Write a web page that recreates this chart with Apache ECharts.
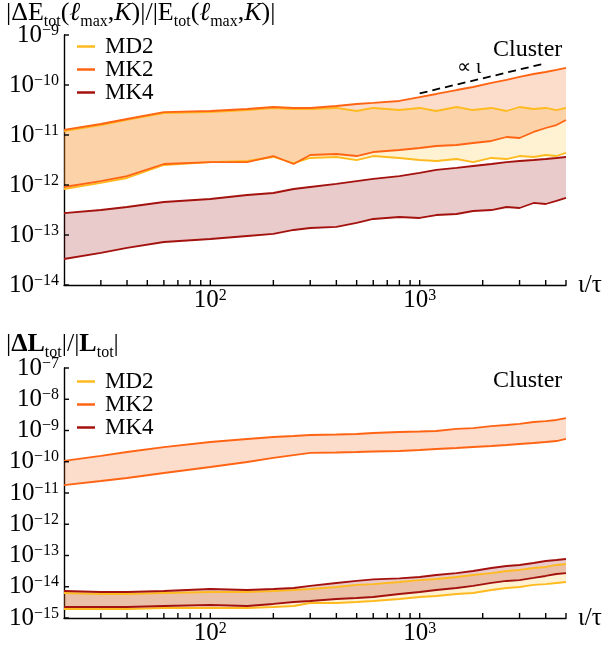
<!DOCTYPE html>
<html><head><meta charset="utf-8">
<script src="https://cdn.jsdelivr.net/npm/echarts@6/dist/echarts.min.js"></script>
<style>html,body{margin:0;padding:0;background:#fff}#c{width:607px;height:654px}</style>
</head><body><div id="c"></div><script>
// time grid (t/tau)
const tVals = [20,30,40,60,100,150,200,250,300,400,500,600,800,1000,1200,1500,1800,2200,2600,3000,3500,4000,4500,5000];

// Top panel: |dE|/|E|
const eMD2hi = [1.20e-11,1.58e-11,2.0e-11,2.75e-11,2.88e-11,3.16e-11,3.47e-11,3.31e-11,3.31e-11,3.47e-11,3.02e-11,3.47e-11,3.16e-11,3.47e-11,3.02e-11,3.63e-11,3.16e-11,3.47e-11,3.02e-11,3.63e-11,3.31e-11,3.47e-11,3.16e-11,3.47e-11];
const eMD2lo = [8.32e-13,1.10e-12,1.38e-12,2.51e-12,2.88e-12,3.02e-12,3.63e-12,2.75e-12,3.47e-12,3.63e-12,3.16e-12,3.80e-12,3.47e-12,3.16e-12,3.02e-12,3.31e-12,2.88e-12,3.47e-12,3.31e-12,3.80e-12,3.63e-12,3.98e-12,3.80e-12,4.37e-12];
const eMK2hi = [1.26e-11,1.66e-11,2.09e-11,2.88e-11,3.02e-11,3.31e-11,3.63e-11,3.47e-11,3.47e-11,3.80e-11,4.17e-11,4.37e-11,4.79e-11,5.75e-11,6.61e-11,7.94e-11,9.12e-11,1.10e-10,1.26e-10,1.45e-10,1.66e-10,1.82e-10,2.0e-10,2.19e-10];
const eMK2lo = [9.12e-13,1.20e-12,1.51e-12,2.63e-12,2.88e-12,2.88e-12,3.80e-12,2.63e-12,3.98e-12,4.17e-12,3.80e-12,4.57e-12,5.01e-12,5.50e-12,6.03e-12,6.31e-12,6.92e-12,7.59e-12,9.12e-12,8.71e-12,1.15e-11,1.38e-11,1.58e-11,2.0e-11];
const eMK4hi = [2.75e-13,3.16e-13,3.63e-13,4.57e-13,5.25e-13,6.31e-13,6.92e-13,8.32e-13,9.12e-13,1.05e-12,1.20e-12,1.32e-12,1.51e-12,1.74e-12,2.0e-12,2.19e-12,2.40e-12,2.63e-12,2.88e-12,3.02e-12,3.16e-12,3.31e-12,3.47e-12,3.63e-12];
const eMK4lo = [3.31e-14,4.37e-14,5.50e-14,7.24e-14,8.32e-14,9.55e-14,1.05e-13,1.26e-13,1.38e-13,1.45e-13,1.74e-13,2.09e-13,2.29e-13,2.19e-13,2.51e-13,2.63e-13,3.02e-13,3.16e-13,3.63e-13,3.47e-13,4.37e-13,4.17e-13,4.79e-13,5.50e-13];

// Bottom panel: |dL|/|L|
const lMD2hi = [6.31e-15,5.86e-15,5.86e-15,6.31e-15,6.79e-15,6.79e-15,7.31e-15,7.87e-15,8.47e-15,9.82e-15,1.14e-14,1.22e-14,1.42e-14,1.64e-14,1.77e-14,2.05e-14,2.38e-14,2.75e-14,3.19e-14,3.44e-14,3.98e-14,4.29e-14,4.97e-14,5.35e-14];
const lMD2lo = [1.94e-15,1.94e-15,1.94e-15,2.09e-15,2.09e-15,2.09e-15,2.25e-15,2.42e-15,3.02e-15,3.02e-15,3.25e-15,3.50e-15,4.06e-15,4.70e-15,5.06e-15,5.86e-15,6.31e-15,7.87e-15,9.12e-15,9.82e-15,1.14e-14,1.22e-14,1.32e-14,1.42e-14];
const lMK2hi = [1.06e-10,1.53e-10,2.05e-10,2.96e-10,4.29e-10,5.35e-10,6.19e-10,6.67e-10,7.18e-10,7.45e-10,7.72e-10,8.32e-10,8.95e-10,9.29e-10,9.64e-10,1.12e-9,1.20e-9,1.39e-9,1.50e-9,1.62e-9,1.87e-9,2.01e-9,2.17e-9,2.51e-9];
const lMK2lo = [1.80e-11,2.42e-11,3.02e-11,4.37e-11,6.79e-11,9.82e-11,1.32e-10,1.64e-10,1.91e-10,1.98e-10,2.05e-10,2.13e-10,2.21e-10,2.38e-10,2.56e-10,2.75e-10,2.96e-10,3.19e-10,3.44e-10,3.70e-10,3.98e-10,4.29e-10,4.61e-10,5.35e-10];
const lMK4hi = [7.31e-15,6.79e-15,6.79e-15,7.31e-15,8.47e-15,7.87e-15,8.47e-15,9.12e-15,1.06e-14,1.32e-14,1.53e-14,1.71e-14,1.84e-14,2.05e-14,2.38e-14,2.75e-14,3.19e-14,3.98e-14,4.61e-14,4.97e-14,5.75e-14,6.67e-14,7.18e-14,7.73e-14];
const lMK4lo = [2.25e-15,2.25e-15,2.25e-15,2.42e-15,2.61e-15,2.42e-15,2.81e-15,3.25e-15,3.50e-15,4.06e-15,4.37e-15,4.70e-15,5.86e-15,6.79e-15,7.87e-15,9.12e-15,1.06e-14,1.32e-14,1.53e-14,1.64e-14,1.91e-14,2.21e-14,2.56e-14,2.75e-14];

// reference slope line (proportional to t)
const dashT = [1000, 4000];
const dashV = [6.8e-11, 2.72e-10];

// axis ticks / labels
const xMin = 20, xMax = 5000;
const xLabelVals = [100, 1000];
const xTickVals = [30,40,50,60,70,80,90,100,200,300,400,500,600,700,800,900,1000,2000,3000,4000,5000];
const yTopTicks = [1e-14,1e-13,1e-12,1e-11,1e-10,1e-9];
const yBotTicks = [1e-15,1e-14,1e-13,1e-12,1e-11,1e-10,1e-9,1e-8,1e-7];
const models = ['MD2','MK2','MK4'];

const FONT = 'Liberation Serif';
const lineColors = {MD2:'#FFBA1F', MK2:'#FF6414', MK4:'#A3120E'};
const fillColors = {MD2:'rgba(255,190,30,0.20)', MK2:'rgba(242,100,25,0.22)', MK4:'rgba(160,16,16,0.22)'};

const chart = echarts.init(document.getElementById('c'), null, {renderer:'canvas'});

const supRich = {
  b:{fontFamily:FONT,fontSize:25,lineHeight:25,verticalAlign:'bottom',color:'#000'},
  sup:{fontFamily:FONT,fontSize:16,lineHeight:16,padding:[0,0,12,0],verticalAlign:'top',color:'#000'}
};
function pow10Label(v){
  const e = Math.round(Math.log10(v));
  return '{b|10}{sup|' + (e < 0 ? '\u2212' + (-e) : e) + '}';
}
const axisLineStyle = {color:'#000', width:1.4};

function xAxis(gi){
  return {
    type:'log', logBase:10, gridIndex:gi, min:xMin, max:xMax,
    axisLine:{show:true, lineStyle:axisLineStyle},
    axisTick:{show:false},
    axisLabel:{show:true, margin:3, customValues:xLabelVals, formatter:pow10Label, rich:supRich},
    splitLine:{show:false}, minorTick:{show:false},
    name:'\u03b9/\u03c4', nameLocation:'end', nameGap:12,
    nameTextStyle:{fontFamily:FONT, fontSize:25, color:'#000', verticalAlign:'middle'}
  };
}
function yAxis(gi, mn, mx, ticks){
  return {
    type:'log', logBase:10, gridIndex:gi, min:mn, max:mx,
    axisLine:{show:true, lineStyle:axisLineStyle},
    axisTick:{show:false},
    axisLabel:{show:true, margin:5, customValues:ticks, formatter:pow10Label, rich:supRich},
    splitLine:{show:false}
  };
}

function lineSeries(name, gi, arr){
  return {
    type:'line', name, xAxisIndex:gi, yAxisIndex:gi, z:3,
    data: tVals.map((t,i)=>[t, arr[i]]),
    symbol:'none', showSymbol:false, silent:true,
    lineStyle:{color:lineColors[name], width:1.8},
    itemStyle:{color:lineColors[name]}
  };
}
function bandSeries(name, gi, lo, hi){
  return {
    type:'custom', name, xAxisIndex:gi, yAxisIndex:gi, z:1, silent:true, clip:true,
    data:[[tVals[0], lo[0]]],
    renderItem(params, api){
      const pts = [];
      for (let i=0;i<tVals.length;i++) pts.push(api.coord([tVals[i], hi[i]]));
      for (let i=tVals.length-1;i>=0;i--) pts.push(api.coord([tVals[i], lo[i]]));
      return {type:'polygon', shape:{points:pts}, style:{fill:fillColors[name]}};
    }
  };
}
// inward tick marks drawn through the axes' scales (one group per panel)
function tickSeries(gi, yTicks){
  return {
    type:'custom', xAxisIndex:gi, yAxisIndex:gi, z:10, silent:true, clip:false,
    data:[[xMin, yTicks[0]]],
    renderItem(params, api){
      const children = [];
      xTickVals.forEach(v=>{
        const p = api.coord([v, yTicks[0]]);
        children.push({type:'polyline', shape:{points:[[p[0], p[1]], [p[0], p[1]-5]]},
          style:{stroke:'#000', lineWidth:1.4, fill:null}});
      });
      yTicks.forEach(v=>{
        const p = api.coord([xMin, v]);
        children.push({type:'polyline', shape:{points:[[p[0], p[1]], [p[0]+5, p[1]]]},
          style:{stroke:'#000', lineWidth:1.4, fill:null}});
      });
      return {type:'group', children};
    }
  };
}

const topData = {MD2:[eMD2lo,eMD2hi], MK2:[eMK2lo,eMK2hi], MK4:[eMK4lo,eMK4hi]};
const botData = {MD2:[lMD2lo,lMD2hi], MK2:[lMK2lo,lMK2hi], MK4:[lMK4lo,lMK4hi]};

const series = [];
[[topData,0],[botData,1]].forEach(([d,gi])=>{
  models.forEach(m=>{
    series.push(lineSeries(m, gi, d[m][1]));
    series.push(lineSeries(m, gi, d[m][0]));
  });
});
[[topData,0],[botData,1]].forEach(([d,gi])=>{
  models.forEach(m=>{ series.push(bandSeries(m, gi, d[m][0], d[m][1])); });
});
series.push({
  type:'line', name:'slope', xAxisIndex:0, yAxisIndex:0, z:4, silent:true,
  data: dashT.map((t,i)=>[t, dashV[i]]), symbol:'none',
  lineStyle:{color:'#000', width:1.8, type:[8,5]}
});
series.push(tickSeries(0, yTopTicks), tickSeries(1, yBotTicks));

function legend(top){
  return {
    orient:'vertical', left:77, top, itemGap:0, itemWidth:18, itemHeight:2.5, padding:0,
    selectedMode:false, icon:'rect',
    data: models.map(m=>({name:m, icon:'rect', itemStyle:{color:lineColors[m]}})),
    textStyle:{fontFamily:FONT, fontSize:23, color:'#000', lineHeight:21.5, padding:[0,0,0,5]}
  };
}

const n = {fontFamily:FONT, fontSize:26, lineHeight:30, verticalAlign:'top', color:'#000'};
const it = Object.assign({}, n, {fontStyle:'italic'});
const s = {fontFamily:FONT, fontSize:16, lineHeight:16, verticalAlign:'bottom', color:'#000'};
const bo = Object.assign({}, n, {fontWeight:'bold'});

chart.setOption({
  animation:false,
  backgroundColor:'#fff',
  grid:[
    {left:64, top:35, width:502, height:250, containLabel:false},
    {left:64, top:368, width:502, height:250, containLabel:false}
  ],
  xAxis:[xAxis(0), xAxis(1)],
  yAxis:[yAxis(0,1e-14,1e-9,yTopTicks), yAxis(1,1e-15,1e-7,yBotTicks)],
  legend:[legend(35), legend(370)],
  series,
  graphic:[
    {type:'text', left:6, top:0, style:{
      text:'{n|\u007cΔE}{s|tot}{n|(}{it|ℓ}{s|max}{n|,}{it|K}{n|)\u007c/\u007cE}{s|tot}{n|(}{it|ℓ}{s|max}{n|,}{it|K}{n|)\u007c}',
      rich:{n, it, s}}},
    {type:'text', left:6, top:331, style:{
      text:'{n|\u007c}{bo|ΔL}{s|tot}{n|\u007c/\u007c}{bo|L}{s|tot}{n|\u007c}',
      rich:{n, bo, s}}},
    {type:'text', x:493, y:50, style:{text:'Cluster', font:'24px "Liberation Serif"', fill:'#000', verticalAlign:'middle'}},
    {type:'text', x:493, y:381, style:{text:'Cluster', font:'24px "Liberation Serif"', fill:'#000', verticalAlign:'middle'}},
    {type:'text', x:457, y:68, style:{text:'\u221d \u03b9', font:'20px "Liberation Serif"', fill:'#000', verticalAlign:'middle'}}
  ]
});
</script></body></html>
